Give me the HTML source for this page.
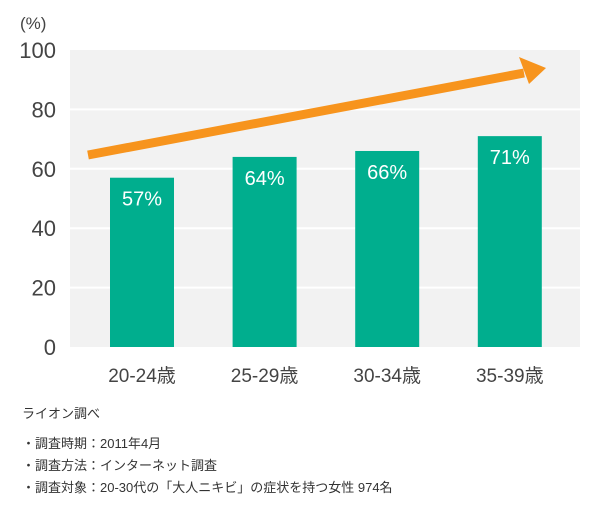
<!DOCTYPE html>
<html><head><meta charset="utf-8"><style>
body{margin:0;background:#fff;width:600px;height:510px;overflow:hidden;font-family:"Liberation Sans","Noto Sans CJK JP",sans-serif}
svg{display:block}
</style></head><body>
<svg width="600" height="510">
<g id="plot"></g>
<text x="20" y="29" font-size="17" fill="#444">(%)</text>
<g font-size="13" fill="#333">
<text x="22" y="418">ライオン調べ</text>
<text x="22" y="448">・調査時期：2011年4月</text>
<text x="22" y="470">・調査方法：インターネット調査</text>
<text x="22" y="492">・調査対象：20-30代の「大人ニキビ」の症状を持つ女性 974名</text>
</g>
</svg>
<script>
const categories=["20-24歳","25-29歳","30-34歳","35-39歳"];
const values=[57,64,66,71];
const labels=["57%","64%","66%","71%"];
const yTicks=[0,20,40,60,80,100];
const NS="http://www.w3.org/2000/svg";
const g=document.getElementById("plot");
const x0=70,x1=580,yBase=347,yTop=50;
const y=v=>yBase-(v/100)*(yBase-yTop);
const step=122.6, bw=64;
const cx=i=>142+i*step;
function mk(t,a){const e=document.createElementNS(NS,t);for(const k in a)e.setAttribute(k,a[k]);g.appendChild(e);return e;}
const bg=mk("rect",{x:x0,y:yTop,width:x1-x0,height:yBase-yTop,fill:"#f2f2f2"});


yTicks.forEach(v=>{
 if(v>0&&v<100){const l=mk("line",{x1:x0,x2:x1,y1:y(v),y2:y(v),stroke:"#fff","stroke-width":2});
 
 }
 const t=mk("text",{x:56,y:y(v)+8,"text-anchor":"end","font-size":22,fill:"#444"});t.textContent=v;
 
 
});
values.forEach((v,i)=>{
 const r=mk("rect",{x:cx(i)-bw/2,y:y(v),width:bw,height:yBase-y(v),fill:"#00ae8e"});
 
 
 const t=mk("text",{x:cx(i),y:y(v)+28,"text-anchor":"middle","font-size":20,fill:"#fff"});t.textContent=labels[i];
 
 
 const c=mk("text",{x:cx(i),y:382,"text-anchor":"middle","font-size":19,fill:"#444"});c.textContent=categories[i];
 
 
});
const ln=mk("line",{x1:88,y1:155,x2:524,y2:73,stroke:"#f7941d","stroke-width":9});


const hd=mk("polygon",{points:"546,68 519,57 529,84",fill:"#f7941d"});


</script>
</body></html>
